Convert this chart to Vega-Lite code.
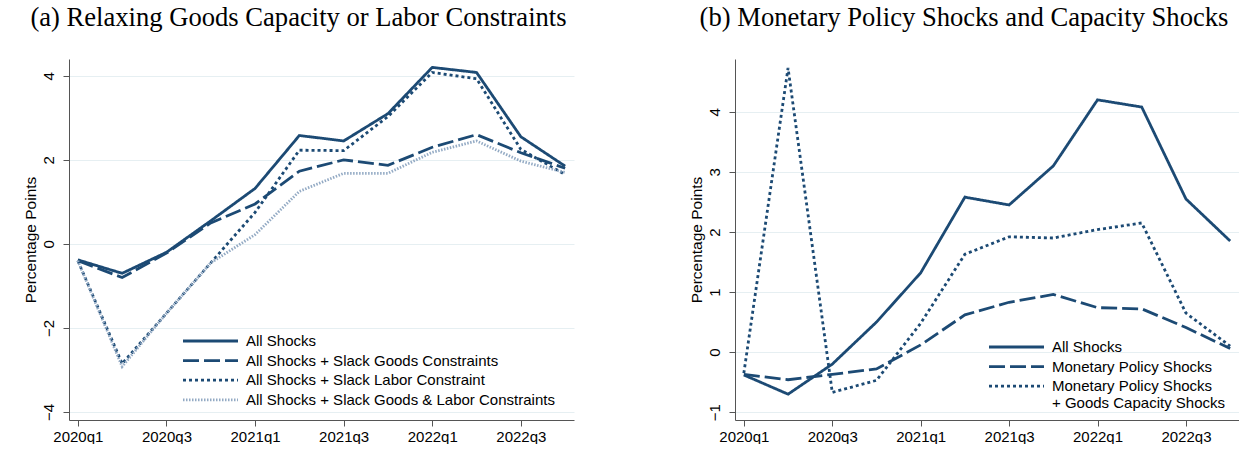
{
  "$schema": "https://vega.github.io/schema/vega-lite/v6.json",
  "background": "white",
  "padding": {"left": 23, "top": 5, "right": 0, "bottom": 0},
  "bounds": "flush",
  "datasets": {
    "a": [
      {"quarter": "2020q1", "series": "All Shocks", "value": -0.38},
      {"quarter": "2020q2", "series": "All Shocks", "value": -0.70},
      {"quarter": "2020q3", "series": "All Shocks", "value": -0.20},
      {"quarter": "2020q4", "series": "All Shocks", "value": 0.55},
      {"quarter": "2021q1", "series": "All Shocks", "value": 1.32},
      {"quarter": "2021q2", "series": "All Shocks", "value": 2.58},
      {"quarter": "2021q3", "series": "All Shocks", "value": 2.45},
      {"quarter": "2021q4", "series": "All Shocks", "value": 3.10},
      {"quarter": "2022q1", "series": "All Shocks", "value": 4.20},
      {"quarter": "2022q2", "series": "All Shocks", "value": 4.08},
      {"quarter": "2022q3", "series": "All Shocks", "value": 2.55},
      {"quarter": "2022q4", "series": "All Shocks", "value": 1.85},
      {"quarter": "2020q1", "series": "All Shocks + Slack Goods Constraints", "value": -0.40},
      {"quarter": "2020q2", "series": "All Shocks + Slack Goods Constraints", "value": -0.80},
      {"quarter": "2020q3", "series": "All Shocks + Slack Goods Constraints", "value": -0.22},
      {"quarter": "2020q4", "series": "All Shocks + Slack Goods Constraints", "value": 0.50},
      {"quarter": "2021q1", "series": "All Shocks + Slack Goods Constraints", "value": 0.95},
      {"quarter": "2021q2", "series": "All Shocks + Slack Goods Constraints", "value": 1.73},
      {"quarter": "2021q3", "series": "All Shocks + Slack Goods Constraints", "value": 2.00},
      {"quarter": "2021q4", "series": "All Shocks + Slack Goods Constraints", "value": 1.87},
      {"quarter": "2022q1", "series": "All Shocks + Slack Goods Constraints", "value": 2.30},
      {"quarter": "2022q2", "series": "All Shocks + Slack Goods Constraints", "value": 2.60},
      {"quarter": "2022q3", "series": "All Shocks + Slack Goods Constraints", "value": 2.17},
      {"quarter": "2022q4", "series": "All Shocks + Slack Goods Constraints", "value": 1.80},
      {"quarter": "2020q1", "series": "All Shocks + Slack Labor Constraint", "value": -0.40},
      {"quarter": "2020q2", "series": "All Shocks + Slack Labor Constraint", "value": -2.85},
      {"quarter": "2020q3", "series": "All Shocks + Slack Labor Constraint", "value": -1.65},
      {"quarter": "2020q4", "series": "All Shocks + Slack Labor Constraint", "value": -0.45},
      {"quarter": "2021q1", "series": "All Shocks + Slack Labor Constraint", "value": 0.75},
      {"quarter": "2021q2", "series": "All Shocks + Slack Labor Constraint", "value": 2.23},
      {"quarter": "2021q3", "series": "All Shocks + Slack Labor Constraint", "value": 2.22},
      {"quarter": "2021q4", "series": "All Shocks + Slack Labor Constraint", "value": 3.03},
      {"quarter": "2022q1", "series": "All Shocks + Slack Labor Constraint", "value": 4.08},
      {"quarter": "2022q2", "series": "All Shocks + Slack Labor Constraint", "value": 3.93},
      {"quarter": "2022q3", "series": "All Shocks + Slack Labor Constraint", "value": 2.25},
      {"quarter": "2022q4", "series": "All Shocks + Slack Labor Constraint", "value": 1.65},
      {"quarter": "2020q1", "series": "All Shocks + Slack Goods & Labor Constraints", "value": -0.40},
      {"quarter": "2020q2", "series": "All Shocks + Slack Goods & Labor Constraints", "value": -2.92},
      {"quarter": "2020q3", "series": "All Shocks + Slack Goods & Labor Constraints", "value": -1.65},
      {"quarter": "2020q4", "series": "All Shocks + Slack Goods & Labor Constraints", "value": -0.45},
      {"quarter": "2021q1", "series": "All Shocks + Slack Goods & Labor Constraints", "value": 0.22},
      {"quarter": "2021q2", "series": "All Shocks + Slack Goods & Labor Constraints", "value": 1.25},
      {"quarter": "2021q3", "series": "All Shocks + Slack Goods & Labor Constraints", "value": 1.68},
      {"quarter": "2021q4", "series": "All Shocks + Slack Goods & Labor Constraints", "value": 1.68},
      {"quarter": "2022q1", "series": "All Shocks + Slack Goods & Labor Constraints", "value": 2.18},
      {"quarter": "2022q2", "series": "All Shocks + Slack Goods & Labor Constraints", "value": 2.45},
      {"quarter": "2022q3", "series": "All Shocks + Slack Goods & Labor Constraints", "value": 1.97},
      {"quarter": "2022q4", "series": "All Shocks + Slack Goods & Labor Constraints", "value": 1.70}
    ],
    "b": [
      {"quarter": "2020q1", "series": "All Shocks", "value": -0.38},
      {"quarter": "2020q2", "series": "All Shocks", "value": -0.70},
      {"quarter": "2020q3", "series": "All Shocks", "value": -0.20},
      {"quarter": "2020q4", "series": "All Shocks", "value": 0.50},
      {"quarter": "2021q1", "series": "All Shocks", "value": 1.32},
      {"quarter": "2021q2", "series": "All Shocks", "value": 2.58},
      {"quarter": "2021q3", "series": "All Shocks", "value": 2.45},
      {"quarter": "2021q4", "series": "All Shocks", "value": 3.10},
      {"quarter": "2022q1", "series": "All Shocks", "value": 4.20},
      {"quarter": "2022q2", "series": "All Shocks", "value": 4.08},
      {"quarter": "2022q3", "series": "All Shocks", "value": 2.55},
      {"quarter": "2022q4", "series": "All Shocks", "value": 1.85},
      {"quarter": "2020q1", "series": "Monetary Policy Shocks", "value": -0.37},
      {"quarter": "2020q2", "series": "Monetary Policy Shocks", "value": -0.46},
      {"quarter": "2020q3", "series": "Monetary Policy Shocks", "value": -0.37},
      {"quarter": "2020q4", "series": "Monetary Policy Shocks", "value": -0.28},
      {"quarter": "2021q1", "series": "Monetary Policy Shocks", "value": 0.12},
      {"quarter": "2021q2", "series": "Monetary Policy Shocks", "value": 0.62},
      {"quarter": "2021q3", "series": "Monetary Policy Shocks", "value": 0.83},
      {"quarter": "2021q4", "series": "Monetary Policy Shocks", "value": 0.96},
      {"quarter": "2022q1", "series": "Monetary Policy Shocks", "value": 0.74},
      {"quarter": "2022q2", "series": "Monetary Policy Shocks", "value": 0.72},
      {"quarter": "2022q3", "series": "Monetary Policy Shocks", "value": 0.41},
      {"quarter": "2022q4", "series": "Monetary Policy Shocks", "value": 0.06},
      {"quarter": "2020q1", "series": "Monetary Policy Shocks + Goods Capacity Shocks", "value": -0.35},
      {"quarter": "2020q2", "series": "Monetary Policy Shocks + Goods Capacity Shocks", "value": 4.73},
      {"quarter": "2020q3", "series": "Monetary Policy Shocks + Goods Capacity Shocks", "value": -0.67},
      {"quarter": "2020q4", "series": "Monetary Policy Shocks + Goods Capacity Shocks", "value": -0.47},
      {"quarter": "2021q1", "series": "Monetary Policy Shocks + Goods Capacity Shocks", "value": 0.48},
      {"quarter": "2021q2", "series": "Monetary Policy Shocks + Goods Capacity Shocks", "value": 1.63},
      {"quarter": "2021q3", "series": "Monetary Policy Shocks + Goods Capacity Shocks", "value": 1.92},
      {"quarter": "2021q4", "series": "Monetary Policy Shocks + Goods Capacity Shocks", "value": 1.90},
      {"quarter": "2022q1", "series": "Monetary Policy Shocks + Goods Capacity Shocks", "value": 2.04},
      {"quarter": "2022q2", "series": "Monetary Policy Shocks + Goods Capacity Shocks", "value": 2.15},
      {"quarter": "2022q3", "series": "Monetary Policy Shocks + Goods Capacity Shocks", "value": 0.65},
      {"quarter": "2022q4", "series": "Monetary Policy Shocks + Goods Capacity Shocks", "value": 0.10}
    ]
  },
  "config": {
    "view": {"stroke": null},
    "font": "Liberation Sans",
    "axis": {
      "labelFont": "Liberation Sans", "labelFontSize": 15, "labelColor": "#000",
      "titleFont": "Liberation Sans", "titleFontSize": 15.5, "titleFontWeight": "normal", "titleColor": "#000",
      "domainColor": "#555", "tickColor": "#555", "gridColor": "#e6eff2", "tickSize": 6, "labelPadding": 3
    },
    "axisY": {"labelPadding": 7, "titlePadding": 3},
    "title": {"font": "Liberation Serif", "fontSize": 26.6, "fontWeight": "normal", "color": "#000", "anchor": "middle", "frame": "bounds", "offset": 27},
    "legend": {
      "orient": "none", "symbolType": "M-5,0H5", "symbolSize": 121, "symbolOffset": 22, "labelFont": "Liberation Sans",
      "labelFontSize": 15, "labelColor": "#000", "rowPadding": 3.6, "labelOffset": 28, "labelLimit": 400, "padding": 0
    },
    "concat": {"spacing": 161}
  },
  "resolve": {
    "scale": {"color": "independent", "strokeDash": "independent", "strokeWidth": "independent"},
    "legend": {"color": "independent", "strokeDash": "independent", "strokeWidth": "independent"}
  },
  "hconcat": [
    {
      "width": 505, "height": 361,
      "title": {"text": "(a) Relaxing Goods Capacity or Labor Constraints"},
      "data": {"name": "a"},
      "mark": {"type": "line", "strokeCap": "butt"},
      "encoding": {
        "x": {"field": "quarter", "type": "ordinal", "sort": null, "scale": {"type": "point", "padding": 0.2},
          "axis": {"values": ["2020q1", "2020q3", "2021q1", "2021q3", "2022q1", "2022q3"], "labelAngle": 0, "title": null, "grid": false}},
        "y": {"field": "value", "type": "quantitative", "scale": {"domain": [-4.19, 4.4], "nice": false, "zero": false},
          "axis": {"values": [-4, -2, 0, 2, 4], "labelAngle": -90, "title": "Percentage Points", "grid": true}},
        "color": {"field": "series", "type": "nominal",
          "scale": {"domain": ["All Shocks", "All Shocks + Slack Goods Constraints", "All Shocks + Slack Labor Constraint", "All Shocks + Slack Goods & Labor Constraints"],
            "range": ["#1c4a74", "#1c4a74", "#1c4a74", "#93aac4"]},
          "legend": {"title": null, "legendX": 112, "legendY": 274.5}},
        "strokeDash": {"field": "series", "type": "nominal",
          "scale": {"domain": ["All Shocks", "All Shocks + Slack Goods Constraints", "All Shocks + Slack Labor Constraint", "All Shocks + Slack Goods & Labor Constraints"],
            "range": [[1, 0], [16, 5], [3, 3], [1.5, 1.5]]},
          "legend": {"title": null}},
        "strokeWidth": {"field": "series", "type": "nominal",
          "scale": {"domain": ["All Shocks", "All Shocks + Slack Goods Constraints", "All Shocks + Slack Labor Constraint", "All Shocks + Slack Goods & Labor Constraints"],
            "range": [2.8, 2.8, 2.8, 1.5]},
          "legend": {"title": null}}
      }
    },
    {
      "width": 504, "height": 361,
      "title": {"text": "(b) Monetary Policy Shocks and Capacity Shocks"},
      "data": {"name": "b"},
      "mark": {"type": "line", "strokeCap": "butt"},
      "encoding": {
        "x": {"field": "quarter", "type": "ordinal", "sort": null, "scale": {"type": "point", "padding": 0.2},
          "axis": {"values": ["2020q1", "2020q3", "2021q1", "2021q3", "2022q1", "2022q3"], "labelAngle": 0, "title": null, "grid": false}},
        "y": {"field": "value", "type": "quantitative", "scale": {"domain": [-1.13, 4.88], "nice": false, "zero": false},
          "axis": {"values": [-1, 0, 1, 2, 3, 4], "labelAngle": -90, "title": "Percentage Points", "grid": true}},
        "color": {"field": "series", "type": "nominal",
          "scale": {"domain": ["All Shocks", "Monetary Policy Shocks", "Monetary Policy Shocks + Goods Capacity Shocks"],
            "range": ["#1c4a74", "#1c4a74", "#1c4a74"]},
          "legend": {"title": null, "legendX": 252, "legendY": 280.5,
            "labelExpr": "datum.label == 'Monetary Policy Shocks + Goods Capacity Shocks' ? ['Monetary Policy Shocks', '+ Goods Capacity Shocks'] : datum.label"}},
        "strokeDash": {"field": "series", "type": "nominal",
          "scale": {"domain": ["All Shocks", "Monetary Policy Shocks", "Monetary Policy Shocks + Goods Capacity Shocks"],
            "range": [[1, 0], [16, 5], [3, 3]]},
          "legend": {"title": null}},
        "strokeWidth": {"field": "series", "type": "nominal",
          "scale": {"domain": ["All Shocks", "Monetary Policy Shocks", "Monetary Policy Shocks + Goods Capacity Shocks"],
            "range": [2.8, 2.8, 2.8]},
          "legend": {"title": null}}
      }
    }
  ]
}
